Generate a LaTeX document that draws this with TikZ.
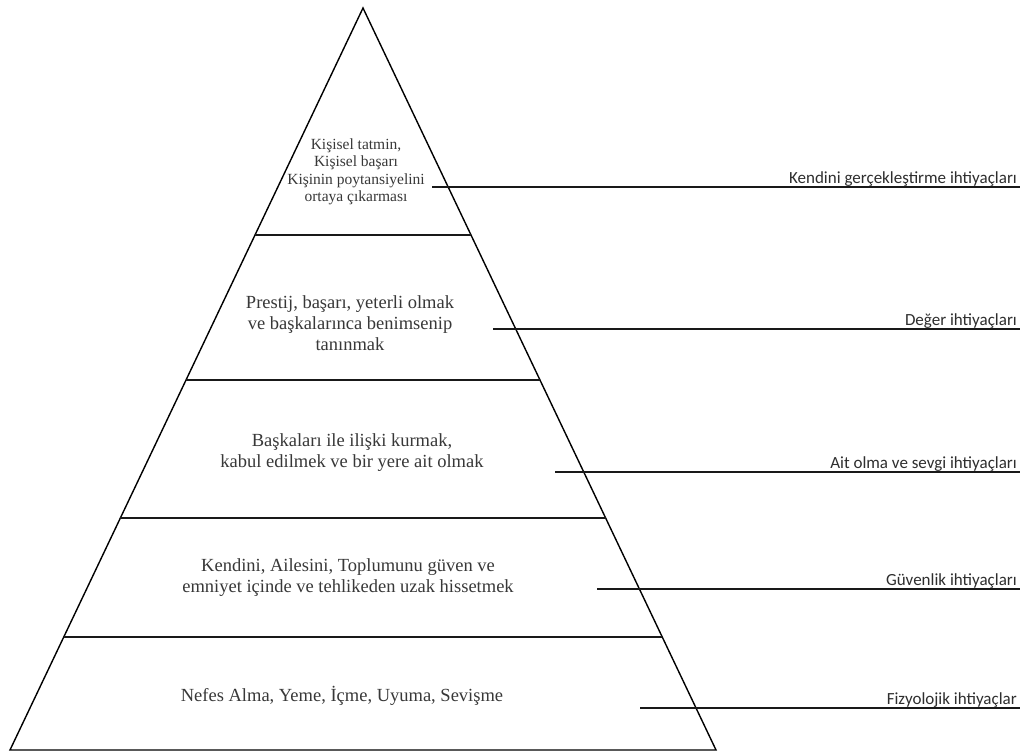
\documentclass[tikz,border=0pt]{standalone}
\usepackage{fontspec}
\newfontfamily\pyrfont{Liberation Serif}
\newfontfamily\labfont{Carlito}
\usetikzlibrary{calc}
\definecolor{pyrtext}{HTML}{383838}
\definecolor{labtext}{HTML}{2E2E2E}
\tikzset{
  edge/.style={line width=1.4pt, black, line cap=round, line join=miter},
  band/.style={line width=1.8pt, black!90},
  leader/.style={line width=1.8pt, black!90},
  bandtext/.style={text=pyrtext, align=center, inner sep=0pt, font=\pyrfont\fontsize{18.5}{21}\selectfont},
  toptext/.style={text=pyrtext, align=center, inner sep=0pt, font=\pyrfont\fontsize{15.5}{17.5}\selectfont},
  label/.style={text=labtext, anchor=base east, inner sep=0pt, font=\labfont\fontsize{17}{20}\selectfont}
}
\begin{document}
\begin{tikzpicture}[x=1pt,y=-1pt]
\useasboundingbox (0,0) rectangle (1025,755);
\fill[white] (0,0) rectangle (1025,755);
% pyramid corners
\coordinate (apex) at (363,8);
\coordinate (bl) at (10,750);
\coordinate (br) at (716,750);
\draw[edge] (bl) -- (apex) -- (br) -- cycle;
% band boundaries
\foreach \t/\n in {0.3059/a, 0.5013/b, 0.6873/c, 0.8477/d}{
  \coordinate (L\n) at ($(apex)!\t!(bl)$);
  \coordinate (R\n) at ($(apex)!\t!(br)$);
  \draw[band] (L\n) -- (R\n);
}
% band texts
\node[toptext] (t1) at (356,172) {Kişisel tatmin,\\Kişisel başarı\\Kişinin poytansiyelini\\ortaya çıkarması};
\node[bandtext] (t2) at (350,323) {Prestij, başarı, yeterli olmak\\ve başkalarınca benimsenip\\tanınmak};
\node[bandtext] (t3) at (352,453) {Başkaları ile ilişki kurmak,\\kabul edilmek ve bir yere ait olmak};
\node[bandtext] (t4) at (348,578) {Kendini, Ailesini, Toplumunu güven ve\\emniyet içinde ve tehlikeden uzak hissetmek};
\node[bandtext] (t5) at (342,696) {Nefes Alma, Yeme, İçme, Uyuma, Sevişme};
% leader lines
\coordinate (s1) at (432,187);  \coordinate (e1) at (1020,187);
\coordinate (s2) at (493,329);  \coordinate (e2) at (1020,329);
\coordinate (s3) at (555,472);  \coordinate (e3) at (1020,472);
\coordinate (s4) at (597,589);  \coordinate (e4) at (1020,589);
\coordinate (s5) at (640,708);  \coordinate (e5) at (1020,708);
\foreach \i in {1,...,5}{ \draw[leader] (s\i) -- (e\i); }
% labels
\node[label] (l1) at (1017,183) {Kendini gerçekleştirme ihtiyaçları};
\node[label] (l2) at (1017,325) {Değer ihtiyaçları};
\node[label] (l3) at (1017,468) {Ait olma ve sevgi ihtiyaçları};
\node[label] (l4) at (1017,585) {Güvenlik ihtiyaçları};
\node[label] (l5) at (1017,704) {Fizyolojik ihtiyaçlar};
\end{tikzpicture}
\end{document}
